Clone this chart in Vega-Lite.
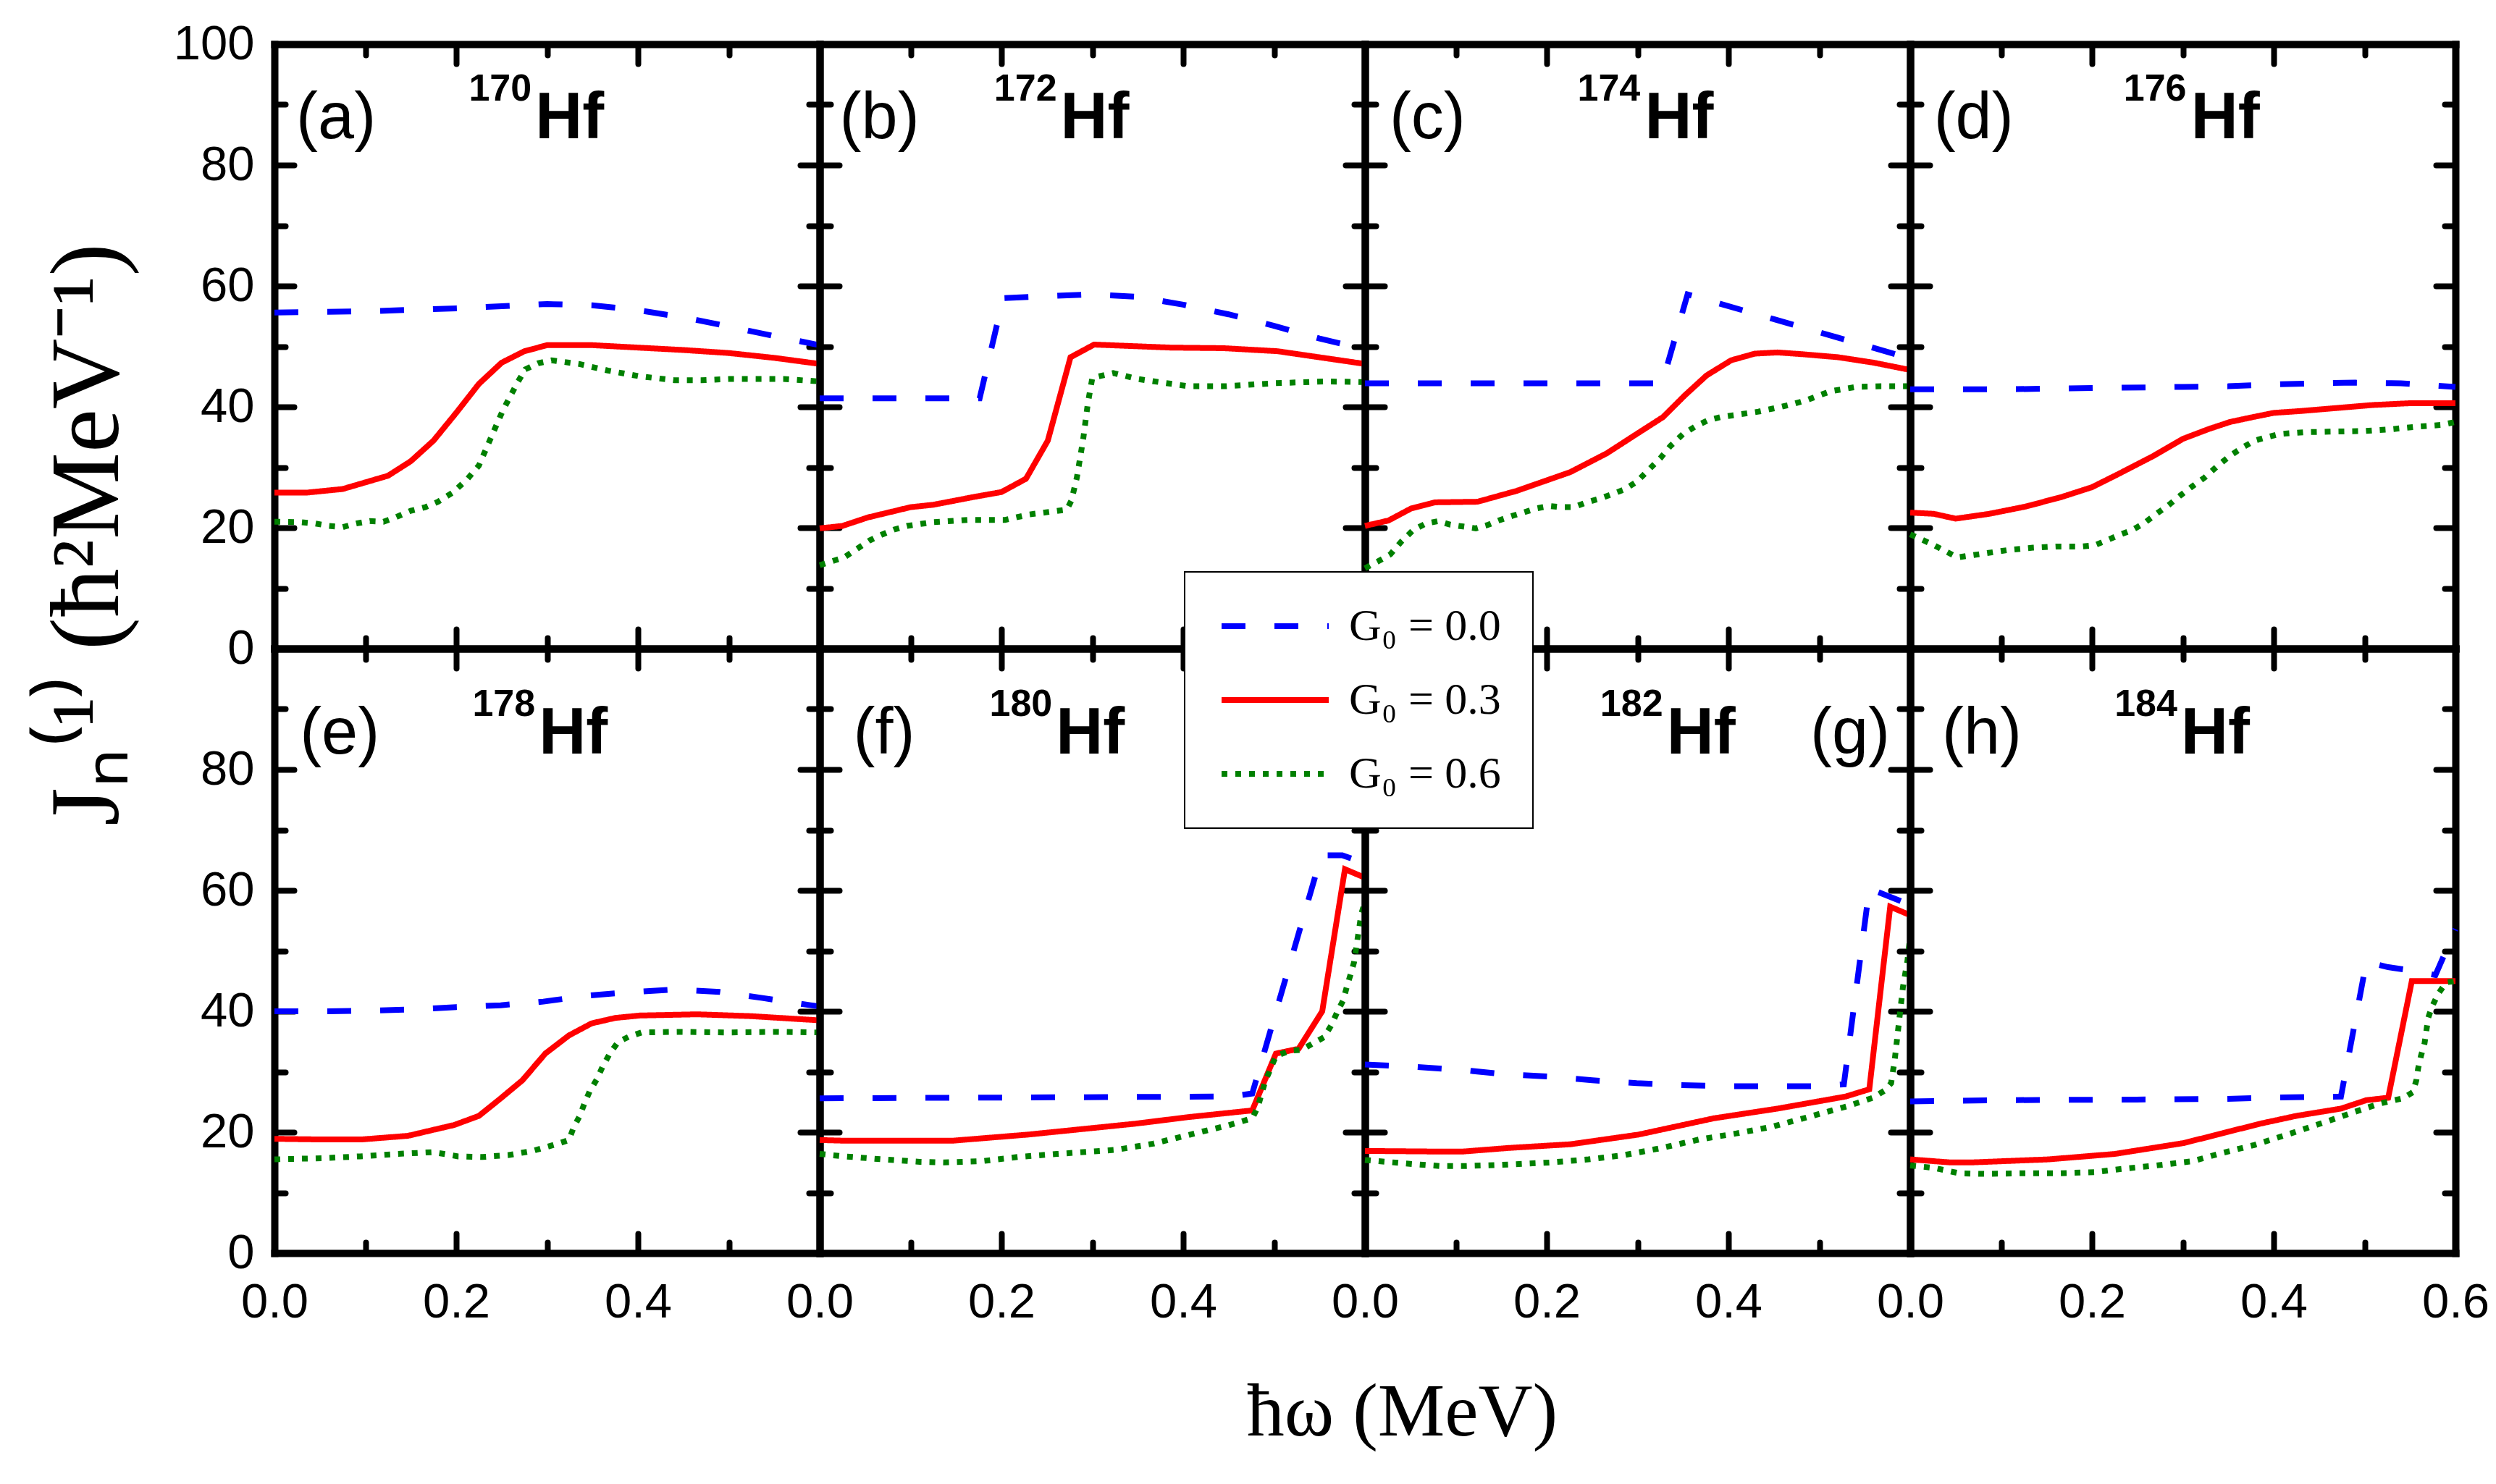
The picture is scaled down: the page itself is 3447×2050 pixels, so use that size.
{
"$schema":"https://vega.github.io/schema/vega-lite/v6.json",
"padding":{"left":54,"top":27,"right":5,"bottom":5},
"config":{"view":{"stroke":null},
 "axis":{"domainColor":"#000","domainWidth":10,"domainCap":"square","tickColor":"#000","tickWidth":8,"tickCap":"round","grid":false,"labelFont":"Liberation Sans","labelFontSize":67,"labelColor":"#000","labelPadding":62,"labelOverlap":false,"labelFlush":false,"labelBound":false},
 "legend":{"orient":"none","legendX":1257,"legendY":729,"labelFont":"Liberation Serif","labelFontSize":62,"labelColor":"#000","labelLimit":0,"fillColor":"#fff","strokeColor":"#000","strokeWidth":2,"padding":44,"symbolType":"M-3,0H3","symbolSize":2434,"symbolStrokeWidth":8,"symbolOffset":50,"rowPadding":40,"labelOffset":71}
},
"data":{"values":[
{"p":"a","k":"l","tag":"(a)","m":"170"},{"p":"b","k":"l","tag":"(b)","m":"172"},{"p":"c","k":"l","tag":"(c)","m":"174"},{"p":"d","k":"l","tag":"(d)","m":"176"},
{"p":"e","k":"l","tag":"(e)","m":"178"},{"p":"f","k":"l","tag":"(f)","m":"180"},{"p":"g","k":"l","tag":"(g)","m":"182"},{"p":"h","k":"l","tag":"(h)","m":"184"},
{"p":"a","k":"c","G":"0.0","x":0,"y":55.6},{"p":"a","k":"c","G":"0.0","x":0.1,"y":55.8},{"p":"a","k":"c","G":"0.0","x":0.2,"y":56.3},{"p":"a","k":"c","G":"0.0","x":0.3,"y":57.0},{"p":"a","k":"c","G":"0.0","x":0.35,"y":56.8},{"p":"a","k":"c","G":"0.0","x":0.4,"y":56.0},{"p":"a","k":"c","G":"0.0","x":0.45,"y":54.8},{"p":"a","k":"c","G":"0.0","x":0.5,"y":53.3},{"p":"a","k":"c","G":"0.0","x":0.55,"y":51.7},{"p":"a","k":"c","G":"0.0","x":0.6,"y":50.2},
{"p":"a","k":"c","G":"0.3","x":0,"y":25.8},{"p":"a","k":"c","G":"0.3","x":0.035,"y":25.8},{"p":"a","k":"c","G":"0.3","x":0.075,"y":26.4},{"p":"a","k":"c","G":"0.3","x":0.125,"y":28.6},{"p":"a","k":"c","G":"0.3","x":0.15,"y":31.0},{"p":"a","k":"c","G":"0.3","x":0.175,"y":34.4},{"p":"a","k":"c","G":"0.3","x":0.2,"y":39.0},{"p":"a","k":"c","G":"0.3","x":0.225,"y":43.8},{"p":"a","k":"c","G":"0.3","x":0.25,"y":47.3},{"p":"a","k":"c","G":"0.3","x":0.275,"y":49.2},{"p":"a","k":"c","G":"0.3","x":0.3,"y":50.2},{"p":"a","k":"c","G":"0.3","x":0.35,"y":50.2},{"p":"a","k":"c","G":"0.3","x":0.45,"y":49.4},{"p":"a","k":"c","G":"0.3","x":0.5,"y":48.9},{"p":"a","k":"c","G":"0.3","x":0.55,"y":48.1},{"p":"a","k":"c","G":"0.3","x":0.6,"y":47.1},
{"p":"a","k":"c","G":"0.6","x":0,"y":21.0},{"p":"a","k":"c","G":"0.6","x":0.03,"y":20.9},{"p":"a","k":"c","G":"0.6","x":0.045,"y":20.7},{"p":"a","k":"c","G":"0.6","x":0.06,"y":20.3},{"p":"a","k":"c","G":"0.6","x":0.075,"y":20.1},{"p":"a","k":"c","G":"0.6","x":0.09,"y":20.7},{"p":"a","k":"c","G":"0.6","x":0.105,"y":21.1},{"p":"a","k":"c","G":"0.6","x":0.12,"y":21.0},{"p":"a","k":"c","G":"0.6","x":0.133,"y":21.7},{"p":"a","k":"c","G":"0.6","x":0.15,"y":22.8},{"p":"a","k":"c","G":"0.6","x":0.166,"y":23.4},{"p":"a","k":"c","G":"0.6","x":0.18,"y":24.3},{"p":"a","k":"c","G":"0.6","x":0.196,"y":25.8},{"p":"a","k":"c","G":"0.6","x":0.212,"y":28.0},{"p":"a","k":"c","G":"0.6","x":0.225,"y":30.3},{"p":"a","k":"c","G":"0.6","x":0.238,"y":34.8},{"p":"a","k":"c","G":"0.6","x":0.251,"y":39.3},{"p":"a","k":"c","G":"0.6","x":0.267,"y":43.9},{"p":"a","k":"c","G":"0.6","x":0.276,"y":46.2},{"p":"a","k":"c","G":"0.6","x":0.29,"y":47.2},{"p":"a","k":"c","G":"0.6","x":0.305,"y":47.7},{"p":"a","k":"c","G":"0.6","x":0.335,"y":47.1},{"p":"a","k":"c","G":"0.6","x":0.367,"y":46.0},{"p":"a","k":"c","G":"0.6","x":0.4,"y":45.1},{"p":"a","k":"c","G":"0.6","x":0.44,"y":44.4},{"p":"a","k":"c","G":"0.6","x":0.47,"y":44.4},{"p":"a","k":"c","G":"0.6","x":0.5,"y":44.6},{"p":"a","k":"c","G":"0.6","x":0.56,"y":44.6},{"p":"a","k":"c","G":"0.6","x":0.6,"y":44.2},
{"p":"b","k":"c","G":"0.0","x":0,"y":41.4},{"p":"b","k":"c","G":"0.0","x":0.176,"y":41.4},{"p":"b","k":"c","G":"0.0","x":0.202,"y":58.0},{"p":"b","k":"c","G":"0.0","x":0.25,"y":58.3},{"p":"b","k":"c","G":"0.0","x":0.3,"y":58.6},{"p":"b","k":"c","G":"0.0","x":0.35,"y":58.2},{"p":"b","k":"c","G":"0.0","x":0.4,"y":56.9},{"p":"b","k":"c","G":"0.0","x":0.45,"y":55.3},{"p":"b","k":"c","G":"0.0","x":0.5,"y":53.4},{"p":"b","k":"c","G":"0.0","x":0.55,"y":51.3},{"p":"b","k":"c","G":"0.0","x":0.6,"y":49.5},
{"p":"b","k":"c","G":"0.3","x":0,"y":19.9},{"p":"b","k":"c","G":"0.3","x":0.025,"y":20.3},{"p":"b","k":"c","G":"0.3","x":0.053,"y":21.7},{"p":"b","k":"c","G":"0.3","x":0.1,"y":23.4},{"p":"b","k":"c","G":"0.3","x":0.125,"y":23.8},{"p":"b","k":"c","G":"0.3","x":0.17,"y":25.1},{"p":"b","k":"c","G":"0.3","x":0.2,"y":25.9},{"p":"b","k":"c","G":"0.3","x":0.227,"y":28.1},{"p":"b","k":"c","G":"0.3","x":0.251,"y":34.4},{"p":"b","k":"c","G":"0.3","x":0.276,"y":48.2},{"p":"b","k":"c","G":"0.3","x":0.302,"y":50.3},{"p":"b","k":"c","G":"0.3","x":0.386,"y":49.8},{"p":"b","k":"c","G":"0.3","x":0.445,"y":49.7},{"p":"b","k":"c","G":"0.3","x":0.504,"y":49.2},{"p":"b","k":"c","G":"0.3","x":0.6,"y":47.1},
{"p":"b","k":"c","G":"0.6","x":0,"y":13.8},{"p":"b","k":"c","G":"0.6","x":0.027,"y":15.1},{"p":"b","k":"c","G":"0.6","x":0.041,"y":16.5},{"p":"b","k":"c","G":"0.6","x":0.055,"y":17.9},{"p":"b","k":"c","G":"0.6","x":0.069,"y":18.9},{"p":"b","k":"c","G":"0.6","x":0.082,"y":19.7},{"p":"b","k":"c","G":"0.6","x":0.096,"y":20.3},{"p":"b","k":"c","G":"0.6","x":0.124,"y":20.9},{"p":"b","k":"c","G":"0.6","x":0.163,"y":21.3},{"p":"b","k":"c","G":"0.6","x":0.204,"y":21.3},{"p":"b","k":"c","G":"0.6","x":0.231,"y":22.2},{"p":"b","k":"c","G":"0.6","x":0.272,"y":23.0},{"p":"b","k":"c","G":"0.6","x":0.277,"y":24.5},{"p":"b","k":"c","G":"0.6","x":0.283,"y":28.3},{"p":"b","k":"c","G":"0.6","x":0.29,"y":34.7},{"p":"b","k":"c","G":"0.6","x":0.295,"y":40.5},{"p":"b","k":"c","G":"0.6","x":0.3,"y":44.8},{"p":"b","k":"c","G":"0.6","x":0.323,"y":45.6},{"p":"b","k":"c","G":"0.6","x":0.35,"y":44.6},{"p":"b","k":"c","G":"0.6","x":0.406,"y":43.4},{"p":"b","k":"c","G":"0.6","x":0.445,"y":43.4},{"p":"b","k":"c","G":"0.6","x":0.5,"y":43.9},{"p":"b","k":"c","G":"0.6","x":0.555,"y":44.2},{"p":"b","k":"c","G":"0.6","x":0.6,"y":44.1},
{"p":"c","k":"c","G":"0.0","x":0,"y":43.9},{"p":"c","k":"c","G":"0.0","x":0.327,"y":43.9},{"p":"c","k":"c","G":"0.0","x":0.355,"y":58.6},{"p":"c","k":"c","G":"0.0","x":0.45,"y":54.5},{"p":"c","k":"c","G":"0.0","x":0.6,"y":48.0},
{"p":"c","k":"c","G":"0.3","x":0,"y":20.3},{"p":"c","k":"c","G":"0.3","x":0.026,"y":21.2},{"p":"c","k":"c","G":"0.3","x":0.051,"y":23.2},{"p":"c","k":"c","G":"0.3","x":0.077,"y":24.2},{"p":"c","k":"c","G":"0.3","x":0.124,"y":24.3},{"p":"c","k":"c","G":"0.3","x":0.167,"y":26.1},{"p":"c","k":"c","G":"0.3","x":0.226,"y":29.2},{"p":"c","k":"c","G":"0.3","x":0.266,"y":32.3},{"p":"c","k":"c","G":"0.3","x":0.301,"y":35.7},{"p":"c","k":"c","G":"0.3","x":0.328,"y":38.3},{"p":"c","k":"c","G":"0.3","x":0.352,"y":41.9},{"p":"c","k":"c","G":"0.3","x":0.376,"y":45.2},{"p":"c","k":"c","G":"0.3","x":0.403,"y":47.7},{"p":"c","k":"c","G":"0.3","x":0.429,"y":48.8},{"p":"c","k":"c","G":"0.3","x":0.454,"y":49.0},{"p":"c","k":"c","G":"0.3","x":0.482,"y":48.7},{"p":"c","k":"c","G":"0.3","x":0.521,"y":48.2},{"p":"c","k":"c","G":"0.3","x":0.56,"y":47.3},{"p":"c","k":"c","G":"0.3","x":0.6,"y":46.1},
{"p":"c","k":"c","G":"0.6","x":0,"y":13.3},{"p":"c","k":"c","G":"0.6","x":0.014,"y":14.4},{"p":"c","k":"c","G":"0.6","x":0.028,"y":15.6},{"p":"c","k":"c","G":"0.6","x":0.04,"y":17.7},{"p":"c","k":"c","G":"0.6","x":0.053,"y":19.6},{"p":"c","k":"c","G":"0.6","x":0.067,"y":20.7},{"p":"c","k":"c","G":"0.6","x":0.081,"y":21.1},{"p":"c","k":"c","G":"0.6","x":0.094,"y":20.5},{"p":"c","k":"c","G":"0.6","x":0.108,"y":20.2},{"p":"c","k":"c","G":"0.6","x":0.122,"y":19.9},{"p":"c","k":"c","G":"0.6","x":0.136,"y":20.5},{"p":"c","k":"c","G":"0.6","x":0.149,"y":21.3},{"p":"c","k":"c","G":"0.6","x":0.163,"y":22.0},{"p":"c","k":"c","G":"0.6","x":0.189,"y":23.2},{"p":"c","k":"c","G":"0.6","x":0.203,"y":23.6},{"p":"c","k":"c","G":"0.6","x":0.216,"y":23.4},{"p":"c","k":"c","G":"0.6","x":0.23,"y":23.4},{"p":"c","k":"c","G":"0.6","x":0.244,"y":24.2},{"p":"c","k":"c","G":"0.6","x":0.258,"y":24.8},{"p":"c","k":"c","G":"0.6","x":0.271,"y":25.5},{"p":"c","k":"c","G":"0.6","x":0.285,"y":26.3},{"p":"c","k":"c","G":"0.6","x":0.299,"y":27.6},{"p":"c","k":"c","G":"0.6","x":0.311,"y":29.4},{"p":"c","k":"c","G":"0.6","x":0.325,"y":31.5},{"p":"c","k":"c","G":"0.6","x":0.336,"y":33.5},{"p":"c","k":"c","G":"0.6","x":0.35,"y":35.5},{"p":"c","k":"c","G":"0.6","x":0.364,"y":36.8},{"p":"c","k":"c","G":"0.6","x":0.378,"y":37.8},{"p":"c","k":"c","G":"0.6","x":0.391,"y":38.3},{"p":"c","k":"c","G":"0.6","x":0.405,"y":38.6},{"p":"c","k":"c","G":"0.6","x":0.433,"y":39.2},{"p":"c","k":"c","G":"0.6","x":0.458,"y":40.0},{"p":"c","k":"c","G":"0.6","x":0.472,"y":40.5},{"p":"c","k":"c","G":"0.6","x":0.486,"y":41.1},{"p":"c","k":"c","G":"0.6","x":0.5,"y":41.9},{"p":"c","k":"c","G":"0.6","x":0.513,"y":42.6},{"p":"c","k":"c","G":"0.6","x":0.541,"y":43.3},{"p":"c","k":"c","G":"0.6","x":0.568,"y":43.4},{"p":"c","k":"c","G":"0.6","x":0.6,"y":43.4},
{"p":"d","k":"c","G":"0.0","x":0,"y":42.9},{"p":"d","k":"c","G":"0.0","x":0.1,"y":42.9},{"p":"d","k":"c","G":"0.0","x":0.2,"y":43.1},{"p":"d","k":"c","G":"0.0","x":0.3,"y":43.3},{"p":"d","k":"c","G":"0.0","x":0.35,"y":43.4},{"p":"d","k":"c","G":"0.0","x":0.4,"y":43.7},{"p":"d","k":"c","G":"0.0","x":0.45,"y":43.9},{"p":"d","k":"c","G":"0.0","x":0.49,"y":44.0},{"p":"d","k":"c","G":"0.0","x":0.54,"y":43.9},{"p":"d","k":"c","G":"0.0","x":0.6,"y":43.3},
{"p":"d","k":"c","G":"0.3","x":0,"y":22.5},{"p":"d","k":"c","G":"0.3","x":0.026,"y":22.3},{"p":"d","k":"c","G":"0.3","x":0.05,"y":21.5},{"p":"d","k":"c","G":"0.3","x":0.087,"y":22.3},{"p":"d","k":"c","G":"0.3","x":0.127,"y":23.5},{"p":"d","k":"c","G":"0.3","x":0.167,"y":25.1},{"p":"d","k":"c","G":"0.3","x":0.2,"y":26.7},{"p":"d","k":"c","G":"0.3","x":0.228,"y":28.8},{"p":"d","k":"c","G":"0.3","x":0.268,"y":31.9},{"p":"d","k":"c","G":"0.3","x":0.3,"y":34.7},{"p":"d","k":"c","G":"0.3","x":0.328,"y":36.3},{"p":"d","k":"c","G":"0.3","x":0.352,"y":37.5},{"p":"d","k":"c","G":"0.3","x":0.377,"y":38.3},{"p":"d","k":"c","G":"0.3","x":0.4,"y":39.0},{"p":"d","k":"c","G":"0.3","x":0.429,"y":39.3},{"p":"d","k":"c","G":"0.3","x":0.469,"y":39.8},{"p":"d","k":"c","G":"0.3","x":0.509,"y":40.3},{"p":"d","k":"c","G":"0.3","x":0.55,"y":40.6},{"p":"d","k":"c","G":"0.3","x":0.6,"y":40.6},
{"p":"d","k":"c","G":"0.6","x":0,"y":18.9},{"p":"d","k":"c","G":"0.6","x":0.012,"y":18.1},{"p":"d","k":"c","G":"0.6","x":0.025,"y":17.2},{"p":"d","k":"c","G":"0.6","x":0.039,"y":16.1},{"p":"d","k":"c","G":"0.6","x":0.052,"y":15.1},{"p":"d","k":"c","G":"0.6","x":0.066,"y":15.4},{"p":"d","k":"c","G":"0.6","x":0.08,"y":15.7},{"p":"d","k":"c","G":"0.6","x":0.107,"y":16.3},{"p":"d","k":"c","G":"0.6","x":0.135,"y":16.7},{"p":"d","k":"c","G":"0.6","x":0.161,"y":16.9},{"p":"d","k":"c","G":"0.6","x":0.189,"y":16.9},{"p":"d","k":"c","G":"0.6","x":0.203,"y":17.1},{"p":"d","k":"c","G":"0.6","x":0.216,"y":17.9},{"p":"d","k":"c","G":"0.6","x":0.23,"y":18.8},{"p":"d","k":"c","G":"0.6","x":0.244,"y":19.6},{"p":"d","k":"c","G":"0.6","x":0.257,"y":20.7},{"p":"d","k":"c","G":"0.6","x":0.27,"y":22.2},{"p":"d","k":"c","G":"0.6","x":0.284,"y":23.7},{"p":"d","k":"c","G":"0.6","x":0.297,"y":25.3},{"p":"d","k":"c","G":"0.6","x":0.31,"y":26.8},{"p":"d","k":"c","G":"0.6","x":0.324,"y":28.3},{"p":"d","k":"c","G":"0.6","x":0.338,"y":30.2},{"p":"d","k":"c","G":"0.6","x":0.352,"y":31.9},{"p":"d","k":"c","G":"0.6","x":0.365,"y":33.2},{"p":"d","k":"c","G":"0.6","x":0.379,"y":34.4},{"p":"d","k":"c","G":"0.6","x":0.393,"y":35.0},{"p":"d","k":"c","G":"0.6","x":0.406,"y":35.5},{"p":"d","k":"c","G":"0.6","x":0.433,"y":35.8},{"p":"d","k":"c","G":"0.6","x":0.461,"y":35.9},{"p":"d","k":"c","G":"0.6","x":0.501,"y":36.0},{"p":"d","k":"c","G":"0.6","x":0.53,"y":36.3},{"p":"d","k":"c","G":"0.6","x":0.556,"y":36.7},{"p":"d","k":"c","G":"0.6","x":0.584,"y":37.0},{"p":"d","k":"c","G":"0.6","x":0.6,"y":37.5},
{"p":"e","k":"c","G":"0.0","x":0,"y":40.0},{"p":"e","k":"c","G":"0.0","x":0.055,"y":40.0},{"p":"e","k":"c","G":"0.0","x":0.104,"y":40.1},{"p":"e","k":"c","G":"0.0","x":0.151,"y":40.3},{"p":"e","k":"c","G":"0.0","x":0.2,"y":40.7},{"p":"e","k":"c","G":"0.0","x":0.249,"y":41.0},{"p":"e","k":"c","G":"0.0","x":0.296,"y":41.6},{"p":"e","k":"c","G":"0.0","x":0.345,"y":42.6},{"p":"e","k":"c","G":"0.0","x":0.394,"y":43.2},{"p":"e","k":"c","G":"0.0","x":0.441,"y":43.6},{"p":"e","k":"c","G":"0.0","x":0.49,"y":43.2},{"p":"e","k":"c","G":"0.0","x":0.537,"y":42.2},{"p":"e","k":"c","G":"0.0","x":0.59,"y":41.0},{"p":"e","k":"c","G":"0.0","x":0.6,"y":40.8},
{"p":"e","k":"c","G":"0.3","x":0,"y":18.9},{"p":"e","k":"c","G":"0.3","x":0.049,"y":18.8},{"p":"e","k":"c","G":"0.3","x":0.096,"y":18.8},{"p":"e","k":"c","G":"0.3","x":0.147,"y":19.4},{"p":"e","k":"c","G":"0.3","x":0.198,"y":21.2},{"p":"e","k":"c","G":"0.3","x":0.225,"y":22.7},{"p":"e","k":"c","G":"0.3","x":0.249,"y":25.6},{"p":"e","k":"c","G":"0.3","x":0.273,"y":28.6},{"p":"e","k":"c","G":"0.3","x":0.298,"y":33.0},{"p":"e","k":"c","G":"0.3","x":0.324,"y":36.0},{"p":"e","k":"c","G":"0.3","x":0.349,"y":38.0},{"p":"e","k":"c","G":"0.3","x":0.375,"y":38.9},{"p":"e","k":"c","G":"0.3","x":0.402,"y":39.3},{"p":"e","k":"c","G":"0.3","x":0.465,"y":39.5},{"p":"e","k":"c","G":"0.3","x":0.524,"y":39.2},{"p":"e","k":"c","G":"0.3","x":0.6,"y":38.5},
{"p":"e","k":"c","G":"0.6","x":0,"y":15.5},{"p":"e","k":"c","G":"0.6","x":0.053,"y":15.7},{"p":"e","k":"c","G":"0.6","x":0.094,"y":16.0},{"p":"e","k":"c","G":"0.6","x":0.135,"y":16.4},{"p":"e","k":"c","G":"0.6","x":0.175,"y":16.7},{"p":"e","k":"c","G":"0.6","x":0.202,"y":16.0},{"p":"e","k":"c","G":"0.6","x":0.229,"y":15.9},{"p":"e","k":"c","G":"0.6","x":0.257,"y":16.2},{"p":"e","k":"c","G":"0.6","x":0.284,"y":16.9},{"p":"e","k":"c","G":"0.6","x":0.31,"y":18.0},{"p":"e","k":"c","G":"0.6","x":0.324,"y":18.7},{"p":"e","k":"c","G":"0.6","x":0.329,"y":20.7},{"p":"e","k":"c","G":"0.6","x":0.336,"y":22.7},{"p":"e","k":"c","G":"0.6","x":0.341,"y":24.7},{"p":"e","k":"c","G":"0.6","x":0.347,"y":26.8},{"p":"e","k":"c","G":"0.6","x":0.355,"y":28.8},{"p":"e","k":"c","G":"0.6","x":0.361,"y":30.8},{"p":"e","k":"c","G":"0.6","x":0.369,"y":33.0},{"p":"e","k":"c","G":"0.6","x":0.378,"y":34.9},{"p":"e","k":"c","G":"0.6","x":0.39,"y":35.8},{"p":"e","k":"c","G":"0.6","x":0.404,"y":36.5},{"p":"e","k":"c","G":"0.6","x":0.445,"y":36.6},{"p":"e","k":"c","G":"0.6","x":0.5,"y":36.5},{"p":"e","k":"c","G":"0.6","x":0.551,"y":36.6},{"p":"e","k":"c","G":"0.6","x":0.6,"y":36.5},
{"p":"f","k":"c","G":"0.0","x":0,"y":25.6},{"p":"f","k":"c","G":"0.0","x":0.453,"y":25.9},{"p":"f","k":"c","G":"0.0","x":0.476,"y":26.4},{"p":"f","k":"c","G":"0.0","x":0.552,"y":65.8},{"p":"f","k":"c","G":"0.0","x":0.575,"y":65.8},{"p":"f","k":"c","G":"0.0","x":0.6,"y":64.5},
{"p":"f","k":"c","G":"0.3","x":0,"y":18.7},{"p":"f","k":"c","G":"0.3","x":0.025,"y":18.6},{"p":"f","k":"c","G":"0.3","x":0.147,"y":18.6},{"p":"f","k":"c","G":"0.3","x":0.229,"y":19.6},{"p":"f","k":"c","G":"0.3","x":0.347,"y":21.4},{"p":"f","k":"c","G":"0.3","x":0.406,"y":22.5},{"p":"f","k":"c","G":"0.3","x":0.476,"y":23.6},{"p":"f","k":"c","G":"0.3","x":0.502,"y":33.0},{"p":"f","k":"c","G":"0.3","x":0.527,"y":33.8},{"p":"f","k":"c","G":"0.3","x":0.553,"y":40.0},{"p":"f","k":"c","G":"0.3","x":0.578,"y":63.5},{"p":"f","k":"c","G":"0.3","x":0.6,"y":62.1},
{"p":"f","k":"c","G":"0.6","x":0,"y":16.4},{"p":"f","k":"c","G":"0.6","x":0.027,"y":16.0},{"p":"f","k":"c","G":"0.6","x":0.069,"y":15.5},{"p":"f","k":"c","G":"0.6","x":0.11,"y":15.1},{"p":"f","k":"c","G":"0.6","x":0.137,"y":15.0},{"p":"f","k":"c","G":"0.6","x":0.178,"y":15.2},{"p":"f","k":"c","G":"0.6","x":0.218,"y":15.9},{"p":"f","k":"c","G":"0.6","x":0.261,"y":16.4},{"p":"f","k":"c","G":"0.6","x":0.3,"y":16.8},{"p":"f","k":"c","G":"0.6","x":0.327,"y":17.1},{"p":"f","k":"c","G":"0.6","x":0.367,"y":18.1},{"p":"f","k":"c","G":"0.6","x":0.394,"y":19.1},{"p":"f","k":"c","G":"0.6","x":0.421,"y":20.1},{"p":"f","k":"c","G":"0.6","x":0.449,"y":21.1},{"p":"f","k":"c","G":"0.6","x":0.476,"y":22.3},{"p":"f","k":"c","G":"0.6","x":0.482,"y":24.1},{"p":"f","k":"c","G":"0.6","x":0.49,"y":28.3},{"p":"f","k":"c","G":"0.6","x":0.502,"y":32.6},{"p":"f","k":"c","G":"0.6","x":0.518,"y":33.5},{"p":"f","k":"c","G":"0.6","x":0.53,"y":33.6},{"p":"f","k":"c","G":"0.6","x":0.543,"y":34.7},{"p":"f","k":"c","G":"0.6","x":0.555,"y":35.7},{"p":"f","k":"c","G":"0.6","x":0.563,"y":37.7},{"p":"f","k":"c","G":"0.6","x":0.569,"y":39.7},{"p":"f","k":"c","G":"0.6","x":0.576,"y":41.8},{"p":"f","k":"c","G":"0.6","x":0.58,"y":44.0},{"p":"f","k":"c","G":"0.6","x":0.584,"y":46.0},{"p":"f","k":"c","G":"0.6","x":0.588,"y":48.1},{"p":"f","k":"c","G":"0.6","x":0.592,"y":52.1},{"p":"f","k":"c","G":"0.6","x":0.596,"y":56.1},{"p":"f","k":"c","G":"0.6","x":0.6,"y":58.1},
{"p":"g","k":"c","G":"0.0","x":0,"y":31.2},{"p":"g","k":"c","G":"0.0","x":0.057,"y":30.8},{"p":"g","k":"c","G":"0.0","x":0.106,"y":30.3},{"p":"g","k":"c","G":"0.0","x":0.153,"y":29.6},{"p":"g","k":"c","G":"0.0","x":0.203,"y":29.2},{"p":"g","k":"c","G":"0.0","x":0.25,"y":28.6},{"p":"g","k":"c","G":"0.0","x":0.299,"y":28.1},{"p":"g","k":"c","G":"0.0","x":0.348,"y":27.8},{"p":"g","k":"c","G":"0.0","x":0.395,"y":27.6},{"p":"g","k":"c","G":"0.0","x":0.445,"y":27.6},{"p":"g","k":"c","G":"0.0","x":0.494,"y":27.6},{"p":"g","k":"c","G":"0.0","x":0.527,"y":27.9},{"p":"g","k":"c","G":"0.0","x":0.555,"y":60.3},{"p":"g","k":"c","G":"0.0","x":0.6,"y":57.6},
{"p":"g","k":"c","G":"0.3","x":0,"y":16.9},{"p":"g","k":"c","G":"0.3","x":0.077,"y":16.8},{"p":"g","k":"c","G":"0.3","x":0.108,"y":16.8},{"p":"g","k":"c","G":"0.3","x":0.159,"y":17.4},{"p":"g","k":"c","G":"0.3","x":0.226,"y":18.0},{"p":"g","k":"c","G":"0.3","x":0.301,"y":19.6},{"p":"g","k":"c","G":"0.3","x":0.384,"y":22.3},{"p":"g","k":"c","G":"0.3","x":0.454,"y":23.9},{"p":"g","k":"c","G":"0.3","x":0.529,"y":25.9},{"p":"g","k":"c","G":"0.3","x":0.555,"y":27.1},{"p":"g","k":"c","G":"0.3","x":0.578,"y":57.3},{"p":"g","k":"c","G":"0.3","x":0.6,"y":55.9},
{"p":"g","k":"c","G":"0.6","x":0,"y":15.4},{"p":"g","k":"c","G":"0.6","x":0.055,"y":14.7},{"p":"g","k":"c","G":"0.6","x":0.083,"y":14.4},{"p":"g","k":"c","G":"0.6","x":0.11,"y":14.4},{"p":"g","k":"c","G":"0.6","x":0.151,"y":14.6},{"p":"g","k":"c","G":"0.6","x":0.205,"y":15.0},{"p":"g","k":"c","G":"0.6","x":0.246,"y":15.5},{"p":"g","k":"c","G":"0.6","x":0.285,"y":16.2},{"p":"g","k":"c","G":"0.6","x":0.327,"y":17.4},{"p":"g","k":"c","G":"0.6","x":0.368,"y":18.8},{"p":"g","k":"c","G":"0.6","x":0.409,"y":19.8},{"p":"g","k":"c","G":"0.6","x":0.448,"y":20.9},{"p":"g","k":"c","G":"0.6","x":0.49,"y":22.6},{"p":"g","k":"c","G":"0.6","x":0.531,"y":24.3},{"p":"g","k":"c","G":"0.6","x":0.559,"y":25.7},{"p":"g","k":"c","G":"0.6","x":0.572,"y":26.9},{"p":"g","k":"c","G":"0.6","x":0.579,"y":28.1},{"p":"g","k":"c","G":"0.6","x":0.583,"y":32.0},{"p":"g","k":"c","G":"0.6","x":0.586,"y":36.0},{"p":"g","k":"c","G":"0.6","x":0.589,"y":40.0},{"p":"g","k":"c","G":"0.6","x":0.592,"y":44.0},{"p":"g","k":"c","G":"0.6","x":0.597,"y":48.4},{"p":"g","k":"c","G":"0.6","x":0.6,"y":52.4},
{"p":"h","k":"c","G":"0.0","x":0,"y":25.1},{"p":"h","k":"c","G":"0.0","x":0.104,"y":25.3},{"p":"h","k":"c","G":"0.0","x":0.249,"y":25.4},{"p":"h","k":"c","G":"0.0","x":0.345,"y":25.5},{"p":"h","k":"c","G":"0.0","x":0.393,"y":25.7},{"p":"h","k":"c","G":"0.0","x":0.474,"y":25.9},{"p":"h","k":"c","G":"0.0","x":0.502,"y":48.2},{"p":"h","k":"c","G":"0.0","x":0.526,"y":47.3},{"p":"h","k":"c","G":"0.0","x":0.554,"y":46.7},{"p":"h","k":"c","G":"0.0","x":0.578,"y":46.0},{"p":"h","k":"c","G":"0.0","x":0.6,"y":53.6},
{"p":"h","k":"c","G":"0.3","x":0,"y":15.5},{"p":"h","k":"c","G":"0.3","x":0.044,"y":15.0},{"p":"h","k":"c","G":"0.3","x":0.068,"y":15.0},{"p":"h","k":"c","G":"0.3","x":0.152,"y":15.5},{"p":"h","k":"c","G":"0.3","x":0.225,"y":16.4},{"p":"h","k":"c","G":"0.3","x":0.301,"y":18.2},{"p":"h","k":"c","G":"0.3","x":0.385,"y":21.4},{"p":"h","k":"c","G":"0.3","x":0.425,"y":22.7},{"p":"h","k":"c","G":"0.3","x":0.474,"y":23.9},{"p":"h","k":"c","G":"0.3","x":0.502,"y":25.3},{"p":"h","k":"c","G":"0.3","x":0.526,"y":25.7},{"p":"h","k":"c","G":"0.3","x":0.552,"y":45.0},{"p":"h","k":"c","G":"0.3","x":0.6,"y":45.0},
{"p":"h","k":"c","G":"0.6","x":0,"y":14.5},{"p":"h","k":"c","G":"0.6","x":0.026,"y":14.1},{"p":"h","k":"c","G":"0.6","x":0.054,"y":13.2},{"p":"h","k":"c","G":"0.6","x":0.082,"y":13.1},{"p":"h","k":"c","G":"0.6","x":0.122,"y":13.2},{"p":"h","k":"c","G":"0.6","x":0.163,"y":13.2},{"p":"h","k":"c","G":"0.6","x":0.203,"y":13.4},{"p":"h","k":"c","G":"0.6","x":0.231,"y":13.9},{"p":"h","k":"c","G":"0.6","x":0.271,"y":14.5},{"p":"h","k":"c","G":"0.6","x":0.311,"y":15.2},{"p":"h","k":"c","G":"0.6","x":0.339,"y":16.4},{"p":"h","k":"c","G":"0.6","x":0.379,"y":17.9},{"p":"h","k":"c","G":"0.6","x":0.419,"y":19.8},{"p":"h","k":"c","G":"0.6","x":0.461,"y":21.9},{"p":"h","k":"c","G":"0.6","x":0.488,"y":23.3},{"p":"h","k":"c","G":"0.6","x":0.516,"y":24.7},{"p":"h","k":"c","G":"0.6","x":0.542,"y":25.6},{"p":"h","k":"c","G":"0.6","x":0.553,"y":26.6},{"p":"h","k":"c","G":"0.6","x":0.557,"y":28.6},{"p":"h","k":"c","G":"0.6","x":0.559,"y":30.6},{"p":"h","k":"c","G":"0.6","x":0.562,"y":32.6},{"p":"h","k":"c","G":"0.6","x":0.566,"y":34.7},{"p":"h","k":"c","G":"0.6","x":0.568,"y":36.8},{"p":"h","k":"c","G":"0.6","x":0.57,"y":38.9},{"p":"h","k":"c","G":"0.6","x":0.574,"y":40.7},{"p":"h","k":"c","G":"0.6","x":0.581,"y":42.9},{"p":"h","k":"c","G":"0.6","x":0.59,"y":44.8},{"p":"h","k":"c","G":"0.6","x":0.6,"y":45.0}
]},
"columns":4,
"bounds":"flush",
"spacing":0,
"resolve":{"scale":{"color":"shared","strokeDash":"shared"},"legend":{"color":"shared","strokeDash":"shared"}},
"concat":[
{"width":753,"height":835,"transform":[{"filter":"datum.p=='a'"}],"resolve":{"axis":{"x":"independent","y":"independent"}},
"layer":[
{"transform":[{"filter":"datum.k=='c'"}],"mark":{"type":"line","strokeWidth":8},
"encoding":{"x":{"field":"x","type":"quantitative","scale":{"domain":[0,0.6]},"axis":{"orient":"bottom","values":[0,0.1,0.2,0.3,0.4,0.5,0.6],"labels":false,"title":null,"tickSize":{"condition":{"test":"round(datum.value*10)%2==0","value":-27},"value":-15}}},
"y":{"field":"y","type":"quantitative","scale":{"domain":[0,100]},"axis":{"orient":"left","values":[0,10,20,30,40,50,60,70,80,90,100],"labelExpr":"datum.value%20==0?datum.label:''","labelPadding":55,"tickSize":{"condition":{"test":"datum.value%20==0","value":-27},"value":-15},"title":"Jₙ⁽¹⁾ (ħ²MeV⁻¹)","titleFont":"Liberation Serif","titleFontSize":135,"titleFontWeight":"normal","titleColor":"#000","titleX":-217,"titleY":677,"titleAngle":-90,"titleAlign":"center","titleBaseline":"alphabetic"}},
"color":{"field":"G","type":"nominal","scale":{"domain":["0.0","0.3","0.6"],"range":["#0000ff","#ff0000","#008000"]},"legend":{"title":null,"labelExpr":"'G₀ = ' + datum.label"}},
"strokeDash":{"field":"G","type":"nominal","scale":{"domain":["0.0","0.3","0.6"],"range":[[33,40],[1,0],[8,11]]},"legend":{"title":null,"labelExpr":"'G₀ = ' + datum.label"}}}},
{"transform":[{"filter":"datum.k=='l'"}],"mark":{"type":"point","opacity":0},"encoding":{"x":{"datum":0.3,"type":"quantitative","axis":{"orient":"top","values":[0,0.1,0.2,0.3,0.4,0.5,0.6],"labels":false,"title":null,"tickSize":{"condition":{"test":"round(datum.value*10)%2==0","value":-27},"value":-15}}},"y":{"datum":50,"type":"quantitative","axis":{"orient":"right","values":[0,10,20,30,40,50,60,70,80,90,100],"labels":false,"title":null,"tickSize":{"condition":{"test":"datum.value%20==0","value":-27},"value":-15}}}}},
{"transform":[{"filter":"datum.k=='l'"}],"mark":{"type":"text","font":"Liberation Sans","fontSize":90,"align":"left","baseline":"alphabetic"},"encoding":{"x":{"datum":0.024,"type":"quantitative","axis":null},"y":{"datum":84.4,"type":"quantitative","axis":null},"text":{"field":"tag"}}},
{"transform":[{"filter":"datum.k=='l'"}],"mark":{"type":"text","font":"Liberation Sans","fontWeight":"bold","fontSize":52,"align":"right","baseline":"alphabetic"},"encoding":{"x":{"datum":0.283,"type":"quantitative","axis":null},"y":{"datum":90.7,"type":"quantitative","axis":null},"text":{"field":"m"}}},
{"transform":[{"filter":"datum.k=='l'"}],"mark":{"type":"text","text":"Hf","font":"Liberation Sans","fontWeight":"bold","fontSize":90,"align":"left","baseline":"alphabetic"},"encoding":{"x":{"datum":0.287,"type":"quantitative","axis":null},"y":{"datum":84.4,"type":"quantitative","axis":null}}}
]},
{"width":753,"height":835,"transform":[{"filter":"datum.p=='b'"}],"resolve":{"axis":{"x":"independent","y":"independent"}},
"layer":[
{"transform":[{"filter":"datum.k=='c'"}],"mark":{"type":"line","strokeWidth":8},
"encoding":{"x":{"field":"x","type":"quantitative","scale":{"domain":[0,0.6]},"axis":{"orient":"bottom","values":[0,0.1,0.2,0.3,0.4,0.5,0.6],"labels":false,"title":null,"tickSize":{"condition":{"test":"round(datum.value*10)%2==0","value":-27},"value":-15}}},
"y":{"field":"y","type":"quantitative","scale":{"domain":[0,100]},"axis":{"orient":"left","values":[0,10,20,30,40,50,60,70,80,90,100],"labels":false,"title":null,"tickSize":{"condition":{"test":"datum.value%20==0","value":-27},"value":-15}}},
"color":{"field":"G","type":"nominal","scale":{"domain":["0.0","0.3","0.6"],"range":["#0000ff","#ff0000","#008000"]},"legend":{"title":null,"labelExpr":"'G₀ = ' + datum.label"}},
"strokeDash":{"field":"G","type":"nominal","scale":{"domain":["0.0","0.3","0.6"],"range":[[33,40],[1,0],[8,11]]},"legend":{"title":null,"labelExpr":"'G₀ = ' + datum.label"}}}},
{"transform":[{"filter":"datum.k=='l'"}],"mark":{"type":"point","opacity":0},"encoding":{"x":{"datum":0.3,"type":"quantitative","axis":{"orient":"top","values":[0,0.1,0.2,0.3,0.4,0.5,0.6],"labels":false,"title":null,"tickSize":{"condition":{"test":"round(datum.value*10)%2==0","value":-27},"value":-15}}},"y":{"datum":50,"type":"quantitative","axis":{"orient":"right","values":[0,10,20,30,40,50,60,70,80,90,100],"labels":false,"title":null,"tickSize":{"condition":{"test":"datum.value%20==0","value":-27},"value":-15}}}}},
{"transform":[{"filter":"datum.k=='l'"}],"mark":{"type":"text","font":"Liberation Sans","fontSize":90,"align":"left","baseline":"alphabetic"},"encoding":{"x":{"datum":0.022,"type":"quantitative","axis":null},"y":{"datum":84.4,"type":"quantitative","axis":null},"text":{"field":"tag"}}},
{"transform":[{"filter":"datum.k=='l'"}],"mark":{"type":"text","font":"Liberation Sans","fontWeight":"bold","fontSize":52,"align":"right","baseline":"alphabetic"},"encoding":{"x":{"datum":0.261,"type":"quantitative","axis":null},"y":{"datum":90.7,"type":"quantitative","axis":null},"text":{"field":"m"}}},
{"transform":[{"filter":"datum.k=='l'"}],"mark":{"type":"text","text":"Hf","font":"Liberation Sans","fontWeight":"bold","fontSize":90,"align":"left","baseline":"alphabetic"},"encoding":{"x":{"datum":0.265,"type":"quantitative","axis":null},"y":{"datum":84.4,"type":"quantitative","axis":null}}}
]},
{"width":753,"height":835,"transform":[{"filter":"datum.p=='c'"}],"resolve":{"axis":{"x":"independent","y":"independent"}},
"layer":[
{"transform":[{"filter":"datum.k=='c'"}],"mark":{"type":"line","strokeWidth":8},
"encoding":{"x":{"field":"x","type":"quantitative","scale":{"domain":[0,0.6]},"axis":{"orient":"bottom","values":[0,0.1,0.2,0.3,0.4,0.5,0.6],"labels":false,"title":null,"tickSize":{"condition":{"test":"round(datum.value*10)%2==0","value":-27},"value":-15}}},
"y":{"field":"y","type":"quantitative","scale":{"domain":[0,100]},"axis":{"orient":"left","values":[0,10,20,30,40,50,60,70,80,90,100],"labels":false,"title":null,"tickSize":{"condition":{"test":"datum.value%20==0","value":-27},"value":-15}}},
"color":{"field":"G","type":"nominal","scale":{"domain":["0.0","0.3","0.6"],"range":["#0000ff","#ff0000","#008000"]},"legend":{"title":null,"labelExpr":"'G₀ = ' + datum.label"}},
"strokeDash":{"field":"G","type":"nominal","scale":{"domain":["0.0","0.3","0.6"],"range":[[33,40],[1,0],[8,11]]},"legend":{"title":null,"labelExpr":"'G₀ = ' + datum.label"}}}},
{"transform":[{"filter":"datum.k=='l'"}],"mark":{"type":"point","opacity":0},"encoding":{"x":{"datum":0.3,"type":"quantitative","axis":{"orient":"top","values":[0,0.1,0.2,0.3,0.4,0.5,0.6],"labels":false,"title":null,"tickSize":{"condition":{"test":"round(datum.value*10)%2==0","value":-27},"value":-15}}},"y":{"datum":50,"type":"quantitative","axis":{"orient":"right","values":[0,10,20,30,40,50,60,70,80,90,100],"labels":false,"title":null,"tickSize":{"condition":{"test":"datum.value%20==0","value":-27},"value":-15}}}}},
{"transform":[{"filter":"datum.k=='l'"}],"mark":{"type":"text","font":"Liberation Sans","fontSize":90,"align":"left","baseline":"alphabetic"},"encoding":{"x":{"datum":0.027,"type":"quantitative","axis":null},"y":{"datum":84.4,"type":"quantitative","axis":null},"text":{"field":"tag"}}},
{"transform":[{"filter":"datum.k=='l'"}],"mark":{"type":"text","font":"Liberation Sans","fontWeight":"bold","fontSize":52,"align":"right","baseline":"alphabetic"},"encoding":{"x":{"datum":0.303,"type":"quantitative","axis":null},"y":{"datum":90.7,"type":"quantitative","axis":null},"text":{"field":"m"}}},
{"transform":[{"filter":"datum.k=='l'"}],"mark":{"type":"text","text":"Hf","font":"Liberation Sans","fontWeight":"bold","fontSize":90,"align":"left","baseline":"alphabetic"},"encoding":{"x":{"datum":0.308,"type":"quantitative","axis":null},"y":{"datum":84.4,"type":"quantitative","axis":null}}}
]},
{"width":753,"height":835,"transform":[{"filter":"datum.p=='d'"}],"resolve":{"axis":{"x":"independent","y":"independent"}},
"layer":[
{"transform":[{"filter":"datum.k=='c'"}],"mark":{"type":"line","strokeWidth":8},
"encoding":{"x":{"field":"x","type":"quantitative","scale":{"domain":[0,0.6]},"axis":{"orient":"bottom","values":[0,0.1,0.2,0.3,0.4,0.5,0.6],"labels":false,"title":null,"tickSize":{"condition":{"test":"round(datum.value*10)%2==0","value":-27},"value":-15}}},
"y":{"field":"y","type":"quantitative","scale":{"domain":[0,100]},"axis":{"orient":"left","values":[0,10,20,30,40,50,60,70,80,90,100],"labels":false,"title":null,"tickSize":{"condition":{"test":"datum.value%20==0","value":-27},"value":-15}}},
"color":{"field":"G","type":"nominal","scale":{"domain":["0.0","0.3","0.6"],"range":["#0000ff","#ff0000","#008000"]},"legend":{"title":null,"labelExpr":"'G₀ = ' + datum.label"}},
"strokeDash":{"field":"G","type":"nominal","scale":{"domain":["0.0","0.3","0.6"],"range":[[33,40],[1,0],[8,11]]},"legend":{"title":null,"labelExpr":"'G₀ = ' + datum.label"}}}},
{"transform":[{"filter":"datum.k=='l'"}],"mark":{"type":"point","opacity":0},"encoding":{"x":{"datum":0.3,"type":"quantitative","axis":{"orient":"top","values":[0,0.1,0.2,0.3,0.4,0.5,0.6],"labels":false,"title":null,"tickSize":{"condition":{"test":"round(datum.value*10)%2==0","value":-27},"value":-15}}},"y":{"datum":50,"type":"quantitative","axis":{"orient":"right","values":[0,10,20,30,40,50,60,70,80,90,100],"labels":false,"title":null,"tickSize":{"condition":{"test":"datum.value%20==0","value":-27},"value":-15}}}}},
{"transform":[{"filter":"datum.k=='l'"}],"mark":{"type":"text","font":"Liberation Sans","fontSize":90,"align":"left","baseline":"alphabetic"},"encoding":{"x":{"datum":0.026,"type":"quantitative","axis":null},"y":{"datum":84.4,"type":"quantitative","axis":null},"text":{"field":"tag"}}},
{"transform":[{"filter":"datum.k=='l'"}],"mark":{"type":"text","font":"Liberation Sans","fontWeight":"bold","fontSize":52,"align":"right","baseline":"alphabetic"},"encoding":{"x":{"datum":0.304,"type":"quantitative","axis":null},"y":{"datum":90.7,"type":"quantitative","axis":null},"text":{"field":"m"}}},
{"transform":[{"filter":"datum.k=='l'"}],"mark":{"type":"text","text":"Hf","font":"Liberation Sans","fontWeight":"bold","fontSize":90,"align":"left","baseline":"alphabetic"},"encoding":{"x":{"datum":0.309,"type":"quantitative","axis":null},"y":{"datum":84.4,"type":"quantitative","axis":null}}}
]},
{"width":753,"height":835,"transform":[{"filter":"datum.p=='e'"}],"resolve":{"axis":{"x":"independent","y":"independent"}},
"layer":[
{"transform":[{"filter":"datum.k=='c'"}],"mark":{"type":"line","strokeWidth":8},
"encoding":{"x":{"field":"x","type":"quantitative","scale":{"domain":[0,0.6]},"axis":{"orient":"bottom","values":[0,0.1,0.2,0.3,0.4,0.5,0.6],"labelExpr":"round(datum.value*10)%2==0&&datum.value<0.55?format(datum.value,'.1f'):''","title":null,"tickSize":{"condition":{"test":"round(datum.value*10)%2==0","value":-27},"value":-15}}},
"y":{"field":"y","type":"quantitative","scale":{"domain":[0,100]},"axis":{"orient":"left","values":[0,10,20,30,40,50,60,70,80,90,100],"labelExpr":"datum.value%20==0&&datum.value<100?datum.label:''","labelPadding":55,"title":null,"tickSize":{"condition":{"test":"datum.value%20==0","value":-27},"value":-15}}},
"color":{"field":"G","type":"nominal","scale":{"domain":["0.0","0.3","0.6"],"range":["#0000ff","#ff0000","#008000"]},"legend":{"title":null,"labelExpr":"'G₀ = ' + datum.label"}},
"strokeDash":{"field":"G","type":"nominal","scale":{"domain":["0.0","0.3","0.6"],"range":[[33,40],[1,0],[8,11]]},"legend":{"title":null,"labelExpr":"'G₀ = ' + datum.label"}}}},
{"transform":[{"filter":"datum.k=='l'"}],"mark":{"type":"point","opacity":0},"encoding":{"x":{"datum":0.3,"type":"quantitative","axis":{"orient":"top","values":[0,0.1,0.2,0.3,0.4,0.5,0.6],"labels":false,"title":null,"tickSize":{"condition":{"test":"round(datum.value*10)%2==0","value":-27},"value":-15}}},"y":{"datum":50,"type":"quantitative","axis":{"orient":"right","values":[0,10,20,30,40,50,60,70,80,90,100],"labels":false,"title":null,"tickSize":{"condition":{"test":"datum.value%20==0","value":-27},"value":-15}}}}},
{"transform":[{"filter":"datum.k=='l'"}],"mark":{"type":"text","font":"Liberation Sans","fontSize":90,"align":"left","baseline":"alphabetic"},"encoding":{"x":{"datum":0.028,"type":"quantitative","axis":null},"y":{"datum":82.6,"type":"quantitative","axis":null},"text":{"field":"tag"}}},
{"transform":[{"filter":"datum.k=='l'"}],"mark":{"type":"text","font":"Liberation Sans","fontWeight":"bold","fontSize":52,"align":"right","baseline":"alphabetic"},"encoding":{"x":{"datum":0.287,"type":"quantitative","axis":null},"y":{"datum":88.9,"type":"quantitative","axis":null},"text":{"field":"m"}}},
{"transform":[{"filter":"datum.k=='l'"}],"mark":{"type":"text","text":"Hf","font":"Liberation Sans","fontWeight":"bold","fontSize":90,"align":"left","baseline":"alphabetic"},"encoding":{"x":{"datum":0.291,"type":"quantitative","axis":null},"y":{"datum":82.6,"type":"quantitative","axis":null}}}
]},
{"width":753,"height":835,"transform":[{"filter":"datum.p=='f'"}],"resolve":{"axis":{"x":"independent","y":"independent"}},
"layer":[
{"transform":[{"filter":"datum.k=='c'"}],"mark":{"type":"line","strokeWidth":8},
"encoding":{"x":{"field":"x","type":"quantitative","scale":{"domain":[0,0.6]},"axis":{"orient":"bottom","values":[0,0.1,0.2,0.3,0.4,0.5,0.6],"labelExpr":"round(datum.value*10)%2==0&&datum.value<0.55?format(datum.value,'.1f'):''","tickSize":{"condition":{"test":"round(datum.value*10)%2==0","value":-27},"value":-15},"title":"ħω (MeV)","titleFont":"Liberation Serif","titleFontSize":104,"titleFontWeight":"normal","titleColor":"#000","titleX":804,"titleY":251,"titleAlign":"center","titleBaseline":"alphabetic"}},
"y":{"field":"y","type":"quantitative","scale":{"domain":[0,100]},"axis":{"orient":"left","values":[0,10,20,30,40,50,60,70,80,90,100],"labels":false,"title":null,"tickSize":{"condition":{"test":"datum.value%20==0","value":-27},"value":-15}}},
"color":{"field":"G","type":"nominal","scale":{"domain":["0.0","0.3","0.6"],"range":["#0000ff","#ff0000","#008000"]},"legend":{"title":null,"labelExpr":"'G₀ = ' + datum.label"}},
"strokeDash":{"field":"G","type":"nominal","scale":{"domain":["0.0","0.3","0.6"],"range":[[33,40],[1,0],[8,11]]},"legend":{"title":null,"labelExpr":"'G₀ = ' + datum.label"}}}},
{"transform":[{"filter":"datum.k=='l'"}],"mark":{"type":"point","opacity":0},"encoding":{"x":{"datum":0.3,"type":"quantitative","axis":{"orient":"top","values":[0,0.1,0.2,0.3,0.4,0.5,0.6],"labels":false,"title":null,"tickSize":{"condition":{"test":"round(datum.value*10)%2==0","value":-27},"value":-15}}},"y":{"datum":50,"type":"quantitative","axis":{"orient":"right","values":[0,10,20,30,40,50,60,70,80,90,100],"labels":false,"title":null,"tickSize":{"condition":{"test":"datum.value%20==0","value":-27},"value":-15}}}}},
{"transform":[{"filter":"datum.k=='l'"}],"mark":{"type":"text","font":"Liberation Sans","fontSize":90,"align":"left","baseline":"alphabetic"},"encoding":{"x":{"datum":0.037,"type":"quantitative","axis":null},"y":{"datum":82.6,"type":"quantitative","axis":null},"text":{"field":"tag"}}},
{"transform":[{"filter":"datum.k=='l'"}],"mark":{"type":"text","font":"Liberation Sans","fontWeight":"bold","fontSize":52,"align":"right","baseline":"alphabetic"},"encoding":{"x":{"datum":0.256,"type":"quantitative","axis":null},"y":{"datum":88.9,"type":"quantitative","axis":null},"text":{"field":"m"}}},
{"transform":[{"filter":"datum.k=='l'"}],"mark":{"type":"text","text":"Hf","font":"Liberation Sans","fontWeight":"bold","fontSize":90,"align":"left","baseline":"alphabetic"},"encoding":{"x":{"datum":0.26,"type":"quantitative","axis":null},"y":{"datum":82.6,"type":"quantitative","axis":null}}}
]},
{"width":753,"height":835,"transform":[{"filter":"datum.p=='g'"}],"resolve":{"axis":{"x":"independent","y":"independent"}},
"layer":[
{"transform":[{"filter":"datum.k=='c'"}],"mark":{"type":"line","strokeWidth":8},
"encoding":{"x":{"field":"x","type":"quantitative","scale":{"domain":[0,0.6]},"axis":{"orient":"bottom","values":[0,0.1,0.2,0.3,0.4,0.5,0.6],"labelExpr":"round(datum.value*10)%2==0&&datum.value<0.55?format(datum.value,'.1f'):''","title":null,"tickSize":{"condition":{"test":"round(datum.value*10)%2==0","value":-27},"value":-15}}},
"y":{"field":"y","type":"quantitative","scale":{"domain":[0,100]},"axis":{"orient":"left","values":[0,10,20,30,40,50,60,70,80,90,100],"labels":false,"title":null,"tickSize":{"condition":{"test":"datum.value%20==0","value":-27},"value":-15}}},
"color":{"field":"G","type":"nominal","scale":{"domain":["0.0","0.3","0.6"],"range":["#0000ff","#ff0000","#008000"]},"legend":{"title":null,"labelExpr":"'G₀ = ' + datum.label"}},
"strokeDash":{"field":"G","type":"nominal","scale":{"domain":["0.0","0.3","0.6"],"range":[[33,40],[1,0],[8,11]]},"legend":{"title":null,"labelExpr":"'G₀ = ' + datum.label"}}}},
{"transform":[{"filter":"datum.k=='l'"}],"mark":{"type":"point","opacity":0},"encoding":{"x":{"datum":0.3,"type":"quantitative","axis":{"orient":"top","values":[0,0.1,0.2,0.3,0.4,0.5,0.6],"labels":false,"title":null,"tickSize":{"condition":{"test":"round(datum.value*10)%2==0","value":-27},"value":-15}}},"y":{"datum":50,"type":"quantitative","axis":{"orient":"right","values":[0,10,20,30,40,50,60,70,80,90,100],"labels":false,"title":null,"tickSize":{"condition":{"test":"datum.value%20==0","value":-27},"value":-15}}}}},
{"transform":[{"filter":"datum.k=='l'"}],"mark":{"type":"text","font":"Liberation Sans","fontSize":90,"align":"left","baseline":"alphabetic"},"encoding":{"x":{"datum":0.49,"type":"quantitative","axis":null},"y":{"datum":82.6,"type":"quantitative","axis":null},"text":{"field":"tag"}}},
{"transform":[{"filter":"datum.k=='l'"}],"mark":{"type":"text","font":"Liberation Sans","fontWeight":"bold","fontSize":52,"align":"right","baseline":"alphabetic"},"encoding":{"x":{"datum":0.328,"type":"quantitative","axis":null},"y":{"datum":88.9,"type":"quantitative","axis":null},"text":{"field":"m"}}},
{"transform":[{"filter":"datum.k=='l'"}],"mark":{"type":"text","text":"Hf","font":"Liberation Sans","fontWeight":"bold","fontSize":90,"align":"left","baseline":"alphabetic"},"encoding":{"x":{"datum":0.332,"type":"quantitative","axis":null},"y":{"datum":82.6,"type":"quantitative","axis":null}}}
]},
{"width":753,"height":835,"transform":[{"filter":"datum.p=='h'"}],"resolve":{"axis":{"x":"independent","y":"independent"}},
"layer":[
{"transform":[{"filter":"datum.k=='c'"}],"mark":{"type":"line","strokeWidth":8},
"encoding":{"x":{"field":"x","type":"quantitative","scale":{"domain":[0,0.6]},"axis":{"orient":"bottom","values":[0,0.1,0.2,0.3,0.4,0.5,0.6],"labelExpr":"round(datum.value*10)%2==0?format(datum.value,'.1f'):''","title":null,"tickSize":{"condition":{"test":"round(datum.value*10)%2==0","value":-27},"value":-15}}},
"y":{"field":"y","type":"quantitative","scale":{"domain":[0,100]},"axis":{"orient":"left","values":[0,10,20,30,40,50,60,70,80,90,100],"labels":false,"title":null,"tickSize":{"condition":{"test":"datum.value%20==0","value":-27},"value":-15}}},
"color":{"field":"G","type":"nominal","scale":{"domain":["0.0","0.3","0.6"],"range":["#0000ff","#ff0000","#008000"]},"legend":{"title":null,"labelExpr":"'G₀ = ' + datum.label"}},
"strokeDash":{"field":"G","type":"nominal","scale":{"domain":["0.0","0.3","0.6"],"range":[[33,40],[1,0],[8,11]]},"legend":{"title":null,"labelExpr":"'G₀ = ' + datum.label"}}}},
{"transform":[{"filter":"datum.k=='l'"}],"mark":{"type":"point","opacity":0},"encoding":{"x":{"datum":0.3,"type":"quantitative","axis":{"orient":"top","values":[0,0.1,0.2,0.3,0.4,0.5,0.6],"labels":false,"title":null,"tickSize":{"condition":{"test":"round(datum.value*10)%2==0","value":-27},"value":-15}}},"y":{"datum":50,"type":"quantitative","axis":{"orient":"right","values":[0,10,20,30,40,50,60,70,80,90,100],"labels":false,"title":null,"tickSize":{"condition":{"test":"datum.value%20==0","value":-27},"value":-15}}}}},
{"transform":[{"filter":"datum.k=='l'"}],"mark":{"type":"text","font":"Liberation Sans","fontSize":90,"align":"left","baseline":"alphabetic"},"encoding":{"x":{"datum":0.035,"type":"quantitative","axis":null},"y":{"datum":82.6,"type":"quantitative","axis":null},"text":{"field":"tag"}}},
{"transform":[{"filter":"datum.k=='l'"}],"mark":{"type":"text","font":"Liberation Sans","fontWeight":"bold","fontSize":52,"align":"right","baseline":"alphabetic"},"encoding":{"x":{"datum":0.294,"type":"quantitative","axis":null},"y":{"datum":88.9,"type":"quantitative","axis":null},"text":{"field":"m"}}},
{"transform":[{"filter":"datum.k=='l'"}],"mark":{"type":"text","text":"Hf","font":"Liberation Sans","fontWeight":"bold","fontSize":90,"align":"left","baseline":"alphabetic"},"encoding":{"x":{"datum":0.298,"type":"quantitative","axis":null},"y":{"datum":82.6,"type":"quantitative","axis":null}}}
]}
]
}
